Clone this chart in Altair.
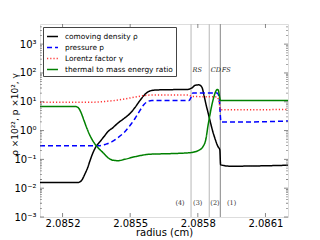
import altair as alt
import pandas as pd

# ---------------- data ----------------
series_names = ["comoving density ρ", "pressure p", "Lorentz factor γ",
                "thermal to mass energy ratio"]

density_x = [2.0851, 2.0852685, 2.0852863, 2.0852996, 2.0853129, 2.0853218, 2.0853351,
             2.0853484, 2.0853661, 2.0853839, 2.0854016, 2.0854238, 2.085446, 2.0854726,
             2.0854992, 2.0855214, 2.0855435, 2.0855613, 2.085579, 2.0855968, 2.0856323,
             2.0857565, 2.0857742, 2.0857875, 2.0858052, 2.0858185, 2.0858274, 2.0858363,
             2.0858452, 2.085854, 2.0858629, 2.0858762, 2.0858895, 2.0858975, 2.0859011,
             2.0859427, 2.0862]
density_y = [0.0157, 0.0157, 0.0195, 0.0316, 0.0555, 0.090, 0.171, 0.277, 0.413, 0.618,
             0.923, 1.27, 1.83, 2.62, 3.92, 6.34, 11.1, 16.6, 22.0, 24.8, 25.9, 26.9, 30.4,
             37.1, 38.6, 31.6, 16.6, 8.07, 4.25, 2.23, 1.17, 0.526, 0.277, 0.217, 0.065,
             0.058, 0.0626]

pressure_x = [2.0851, 2.0853661, 2.0853927, 2.0854194, 2.085446, 2.0854726, 2.0854992,
              2.0855214, 2.0855435, 2.0855613, 2.085579, 2.0855968, 2.0857609, 2.0857698,
              2.0857786, 2.0858851, 2.085894, 2.0858984, 2.0859028, 2.0859871, 2.0862]
pressure_y = [0.300, 0.300, 0.338, 0.413, 0.570, 0.851, 1.49, 2.62, 4.99, 8.07, 10.3, 11.1,
              11.1, 14.2, 20.3, 20.3, 15.3, 4.99, 1.98, 1.98, 2.14]

lorentz_x = [2.0851, 2.085344, 2.0853883, 2.0854327, 2.085477, 2.0855214, 2.0855657,
             2.0856101, 2.0857565, 2.0857742, 2.0858851, 2.085894, 2.0859006, 2.0859871,
             2.0862]
lorentz_y = [9.71, 9.71, 10.3, 11.1, 12.6, 14.5, 16.6, 17.3, 17.3, 15.3, 14.7, 10.3, 5.27,
             5.27, 5.40]

thermal_x = [2.0851, 2.0852552, 2.0852685, 2.0852819, 2.0852952, 2.0853085, 2.0853218,
             2.0853395, 2.0853573, 2.0853794, 2.0854016, 2.0854238, 2.085446, 2.085477,
             2.0855214, 2.0855879, 2.0856766, 2.0857653, 2.0858008, 2.085823, 2.0858363,
             2.0858452, 2.085854, 2.0858629, 2.0858718, 2.0858806, 2.0858873, 2.0858918,
             2.0858962, 2.0859006, 2.0859871, 2.0862]
thermal_y = [6.87, 6.87, 6.34, 4.25, 2.23, 1.17, 0.669, 0.381, 0.255, 0.171, 0.114, 0.0935,
             0.090, 0.101, 0.124, 0.151, 0.158, 0.171, 0.200, 0.277, 0.526, 1.49, 3.61, 8.07,
             15.3, 23.9, 26.9, 23.9, 15.3, 11.1, 11.1, 11.1]

shock_names = ["RS", "CD", "FS"]
shock_x = [2.08577, 2.085851, 2.0859]
shock_label_y = [130, 130, 130]

region_labels = ["(4)", "(3)", "(2)", "(1)"]
region_x = [2.085721, 2.0857995, 2.085876, 2.08595]
region_y = [0.0031, 0.0031, 0.0031, 0.0031]

x_ticks = [2.0852, 2.0855, 2.0858, 2.0861]
y_ticks = [1e-3, 1e-2, 1e-1, 1e0, 1e1, 1e2, 1e3]
y_minor = [k * 10.0 ** e for e in range(-3, 4) for k in range(2, 10) if k * 10.0 ** e < 5000]

# ---------------- build tables ----------------
rows = []
for name, xs, ys in zip(series_names,
                        [density_x, pressure_x, lorentz_x, thermal_x],
                        [density_y, pressure_y, lorentz_y, thermal_y]):
    for xv, yv in zip(xs, ys):
        rows.append({"x": xv, "y": yv, "series": name})
df = pd.DataFrame(rows)

shocks = pd.DataFrame({"x": shock_x, "name": shock_names, "ly": shock_label_y})
regions = pd.DataFrame({"x": region_x, "y": region_y, "label": region_labels})
xt = pd.DataFrame({"x": x_ticks})
yt = pd.DataFrame({"y": y_ticks})
ym = pd.DataFrame({"y": y_minor})

W, H = 248, 193
xscale = alt.Scale(domain=[2.0851, 2.0862], nice=False, zero=False)
yscale = alt.Scale(type="log", domain=[1e-3, 5e3], nice=False)

sup_expr = ("'10' + ['⁻³','⁻²','⁻¹','⁰','¹','²','³'][round(log(datum.value)/LN10)+3]")

lines = alt.Chart(df).mark_line(strokeWidth=1.5, interpolate="monotone").encode(
    x=alt.X("x:Q", scale=xscale,
            axis=alt.Axis(values=x_ticks, format=".4f", title="radius (cm)",
                          grid=False, ticks=False, domain=False, labelFontSize=10,
                          labelPadding=1, titleFontSize=10, titleY=15,
                          titleBaseline="middle",
                          titleFontWeight="normal", labelColor="#000", titleColor="#000")),
    y=alt.Y("y:Q", scale=yscale,
            axis=alt.Axis(values=y_ticks, labelExpr=sup_expr,
                          title="ρ ×10²², p ×10², γ", grid=False, ticks=False,
                          domain=False, labelFontSize=10, labelPadding=4,
                          titleFontSize=9, titleFontWeight="normal",
                          titleX=-26, titleY=90, titleBaseline="middle",
                          labelColor="#000", titleColor="#000")),
    color=alt.Color("series:N", title=None,
                    scale=alt.Scale(domain=series_names,
                                    range=["#000000", "#0000ff", "#ff3333", "#008000"]),
                    legend=alt.Legend(orient="top-left", offset=3, padding=3,
                                      fillColor="white", strokeColor="#444",
                                      symbolType="stroke", symbolStrokeWidth=1.5,
                                      symbolSize=120, labelFontSize=7.4, rowPadding=1,
                                      labelOffset=6, labelColor="#000")),
    strokeDash=alt.StrokeDash("series:N", title=None,
                              scale=alt.Scale(domain=series_names,
                                              range=[[1, 0], [5, 3], [1.2, 2], [1, 0]])),
    order=alt.Order("x:Q"),
)

rules_light = alt.Chart(shocks[shocks["name"] != "FS"]).mark_rule(
    color="#c8c8c8", strokeWidth=1.3).encode(x=alt.X("x:Q", scale=xscale))
rules_dark = alt.Chart(shocks[shocks["name"] == "FS"]).mark_rule(
    color="#999999", strokeWidth=1.2).encode(x=alt.X("x:Q", scale=xscale))

shock_text = alt.Chart(shocks).mark_text(
    align="left", dx=1.5, baseline="middle", font="DejaVu Serif", fontStyle="italic",
    fontSize=6.5, color="#222").encode(
    x=alt.X("x:Q", scale=xscale), y=alt.Y("ly:Q", scale=yscale), text="name:N")

region_text = alt.Chart(regions).mark_text(
    align="center", baseline="middle", font="DejaVu Serif", fontSize=6.5,
    color="#333").encode(
    x=alt.X("x:Q", scale=xscale), y=alt.Y("y:Q", scale=yscale), text="label:N")

tick_color = "#555"
xt_bottom = alt.Chart(xt).mark_tick(color=tick_color, thickness=1, size=4, yOffset=-2).encode(
    x=alt.X("x:Q", scale=xscale), y=alt.value(H))
xt_top = alt.Chart(xt).mark_tick(color=tick_color, thickness=1, size=4, yOffset=2).encode(
    x=alt.X("x:Q", scale=xscale), y=alt.value(0))
yt_left = alt.Chart(yt).mark_tick(color=tick_color, thickness=1, size=4, xOffset=2).encode(
    y=alt.Y("y:Q", scale=yscale), x=alt.value(0))
yt_right = alt.Chart(yt).mark_tick(color=tick_color, thickness=1, size=4, xOffset=-2).encode(
    y=alt.Y("y:Q", scale=yscale), x=alt.value(W))
ym_left = alt.Chart(ym).mark_tick(color=tick_color, thickness=0.8, size=2, xOffset=1).encode(
    y=alt.Y("y:Q", scale=yscale), x=alt.value(0))
ym_right = alt.Chart(ym).mark_tick(color=tick_color, thickness=0.8, size=2, xOffset=-1).encode(
    y=alt.Y("y:Q", scale=yscale), x=alt.value(W))

chart = alt.layer(
    rules_light, rules_dark, lines, shock_text, region_text,
    xt_bottom, xt_top, yt_left, yt_right, ym_left, ym_right,
).properties(
    width=W, height=H,
    autosize=alt.AutoSizeParams(type="none"),
    padding={"left": 32, "top": 16, "right": 24, "bottom": 22},
    background="white",
).configure_view(
    stroke="#888888", strokeWidth=1
).configure(font="DejaVu Sans")

chart.save("out.html", embed_options={"renderer": "svg", "actions": False})
